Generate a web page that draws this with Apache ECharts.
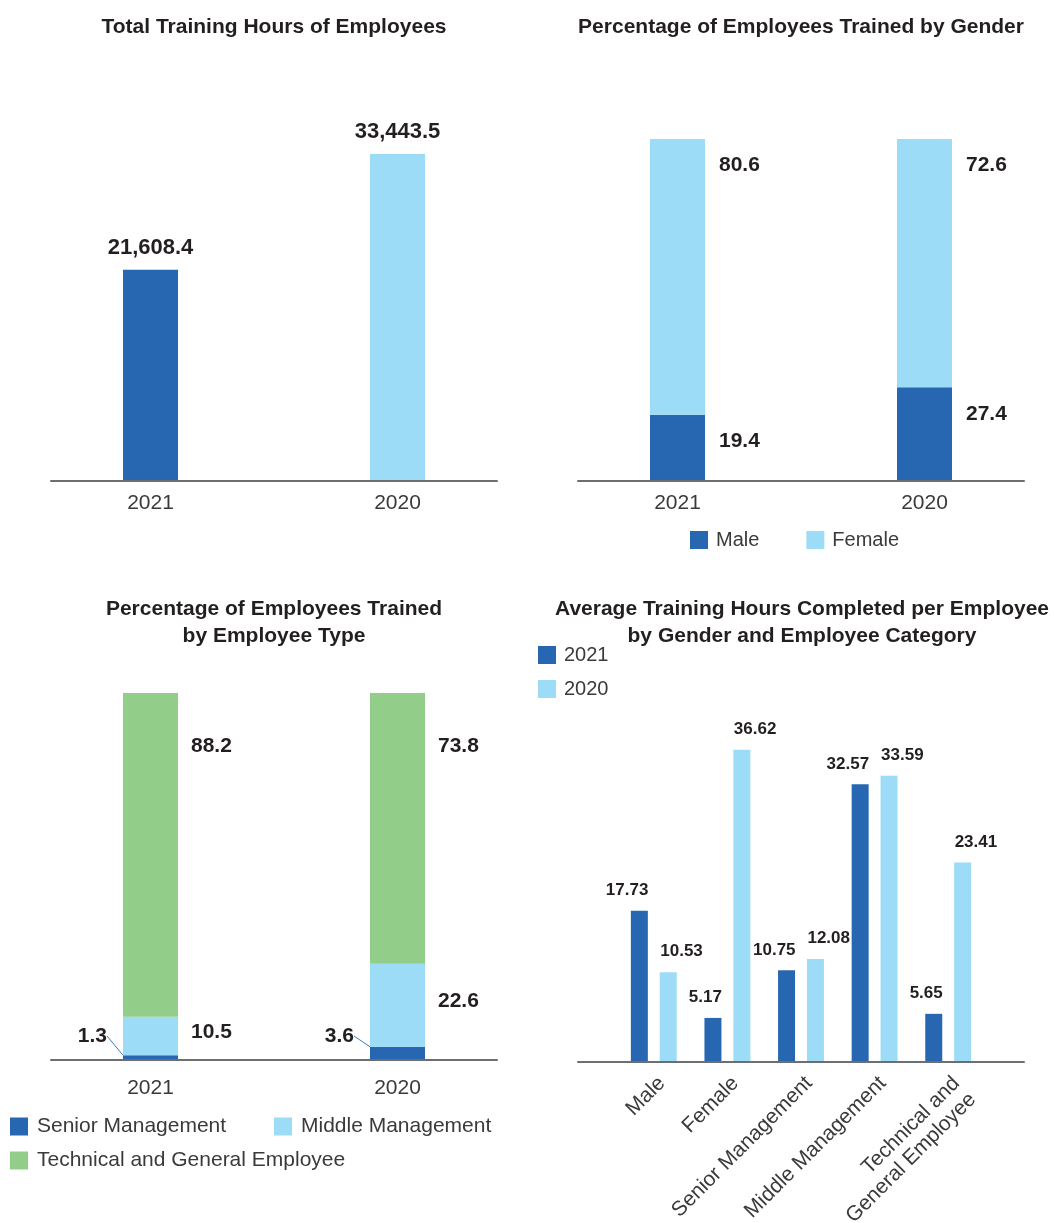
<!DOCTYPE html>
<html>
<head>
<meta charset="utf-8">
<script src="https://cdn.jsdelivr.net/npm/echarts@6/dist/echarts.min.js"></script>
<style>
html,body{margin:0;padding:0;background:#fff;}
#main{width:1054px;height:1223px;}
</style>
</head>
<body>
<div id="main"></div>
<script>
// ---- data ----
const years = ['2021', '2020'];
const totalHours = [21608.4, 33443.5];
const genderMale = [19.4, 27.4];
const genderFemale = [80.6, 72.6];
const typeSenior = [1.3, 3.6];
const typeMiddle = [10.5, 22.6];
const typeTech = [88.2, 73.8];
const avgCategories = ['Male', 'Female', 'Senior Management', 'Middle Management', 'Technical and\nGeneral Employee'];
const avg2021 = [17.73, 5.17, 10.75, 32.57, 5.65];
const avg2020 = [10.53, 36.62, 12.08, 33.59, 23.41];

// ---- style ----
const FONT = "'Liberation Sans', Arial, sans-serif";
const DARK = '#2767b1';
const LIGHT = '#9ddcf6';
const GREEN = '#92cd8a';
const AXIS = '#6d6e71';
const TXT = '#231f20';
const GREY = '#3a3a3a';

const chart = echarts.init(document.getElementById('main'), null, {renderer: 'canvas'});

const gridBoxes = [
  {left: 27, width: 494, top: 90, bottom: 742},   // 0 chart1 bars
  {left: 51, width: 446, top: 90, bottom: 742},   // 1 chart1 axis line
  {left: 554, width: 494, top: 139, bottom: 742}, // 2 chart2 bars
  {left: 578, width: 446, top: 139, bottom: 742}, // 3 chart2 axis line
  {left: 27, width: 494, top: 693, bottom: 163},  // 4 chart3 bars
  {left: 51, width: 446, top: 693, bottom: 163},  // 5 chart3 axis line
  {left: 617, width: 368, top: 721, bottom: 161}, // 6 chart4 bars
  {left: 578, width: 446, top: 721, bottom: 161}  // 7 chart4 axis line
];
const grids = gridBoxes.map(g => Object.assign({outerBoundsMode: 'none', containLabel: false}, g));

function catAxis(gi, data, extra) {
  return Object.assign({
    gridIndex: gi, type: 'category', data: data,
    axisLine: {show: false}, axisTick: {show: false},
    axisLabel: {color: GREY, fontSize: 21, fontFamily: FONT, margin: 12}
  }, extra || {});
}
function lineAxis(gi) {
  return {
    gridIndex: gi, type: 'value', min: 0, max: 1, position: 'bottom',
    axisLine: {show: true, onZero: false, lineStyle: {color: AXIS, width: 2}},
    axisTick: {show: false}, axisLabel: {show: false}, splitLine: {show: false}, z: 5
  };
}
function valAxis(gi, max) {
  return {gridIndex: gi, type: 'value', min: 0, max: max, show: false, splitLine: {show: false}};
}

const valLabel = {color: TXT, fontWeight: 'bold', fontSize: 21, fontFamily: FONT};
const titleStyle = {fontSize: 21, fontWeight: 'bold', color: TXT, fontFamily: FONT, lineHeight: 27};
const legendText = {fontSize: 20, color: GREY, fontFamily: FONT, padding: [0, 0, 0, 3]};
const legendText21 = {fontSize: 21, color: GREY, fontFamily: FONT, padding: [0, 0, 0, 4]};

const option = {
  backgroundColor: '#fff',
  animation: false,
  textStyle: {fontFamily: FONT},
  title: [
    {text: 'Total Training Hours of Employees', left: 269, top: 9, textAlign: 'center', textStyle: titleStyle},
    {text: 'Percentage of Employees Trained by Gender', left: 796, top: 9, textAlign: 'center', textStyle: titleStyle},
    {text: 'Percentage of Employees Trained\nby Employee Type', left: 269, top: 591, textAlign: 'center', textStyle: titleStyle},
    {text: 'Average Training Hours Completed per Employee\nby Gender and Employee Category', left: 797, top: 591, textAlign: 'center', textStyle: titleStyle}
  ],
  legend: [
    {data: ['Male', 'Female'], left: 685, top: 525, itemWidth: 18, itemHeight: 18, itemGap: 47, icon: 'rect', textStyle: legendText},
    {data: ['Senior Management'], left: 5, top: 1111, itemWidth: 18, itemHeight: 18, icon: 'rect', textStyle: legendText21},
    {data: ['Middle Management'], left: 269, top: 1111, itemWidth: 18, itemHeight: 18, icon: 'rect', textStyle: legendText21},
    {data: ['Technical and General Employee'], left: 5, top: 1145, itemWidth: 18, itemHeight: 18, icon: 'rect', textStyle: legendText21},
    {data: ['2021', '2020'], left: 533, top: 640, orient: 'vertical', itemWidth: 18, itemHeight: 18, itemGap: 14, icon: 'rect', textStyle: legendText}
  ],
  grid: grids,
  xAxis: [
    catAxis(0, years),
    lineAxis(1),
    catAxis(2, years),
    lineAxis(3),
    catAxis(4, years, {axisLabel: {color: GREY, fontSize: 21, fontFamily: FONT, margin: 18}}),
    lineAxis(5),
    catAxis(6, avgCategories, {axisLabel: {color: GREY, fontSize: 21, fontFamily: FONT, rotate: 45, margin: 10, interval: 0, lineHeight: 23, verticalAlign: 'top'}}),
    lineAxis(7)
  ],
  yAxis: [
    valAxis(0, 40000), valAxis(1, 1),
    valAxis(2, 100), valAxis(3, 1),
    valAxis(4, 100), valAxis(5, 1),
    valAxis(6, 40), valAxis(7, 1)
  ],
  series: [
    // chart 1
    {
      name: 'Total Training Hours', type: 'bar', xAxisIndex: 0, yAxisIndex: 0, barWidth: 55,
      data: totalHours,
      itemStyle: {color: p => p.dataIndex === 0 ? DARK : LIGHT},
      label: Object.assign({show: true, position: 'top', distance: 11,
        formatter: p => p.value.toLocaleString('en-US', {minimumFractionDigits: 1, maximumFractionDigits: 1})}, valLabel, {fontSize: 22})
    },
    // chart 2
    {
      name: 'Male', type: 'bar', stack: 'gender', xAxisIndex: 2, yAxisIndex: 2, barWidth: 55,
      data: genderMale, itemStyle: {color: DARK},
      label: Object.assign({show: true, position: ['100%', 27], offset: [14, 0], align: 'left', verticalAlign: 'middle'}, valLabel)
    },
    {
      name: 'Female', type: 'bar', stack: 'gender', xAxisIndex: 2, yAxisIndex: 2, barWidth: 55,
      data: genderFemale, itemStyle: {color: LIGHT},
      label: Object.assign({show: true, position: ['100%', 26], offset: [14, 0], align: 'left', verticalAlign: 'middle'}, valLabel)
    },
    // chart 3
    {
      name: 'Senior Management', type: 'bar', stack: 'type', xAxisIndex: 4, yAxisIndex: 4, barWidth: 55,
      data: typeSenior, itemStyle: {color: DARK},
      label: Object.assign({show: true, position: 'left', distance: 5}, valLabel),
      labelLayout: p => ({x: p.rect.x - 16, y: p.rect.y + p.rect.height - 24, align: 'right', verticalAlign: 'middle'}),
      labelLine: {show: true, lineStyle: {color: '#3f7cc0', width: 1}}
    },
    {
      name: 'Middle Management', type: 'bar', stack: 'type', xAxisIndex: 4, yAxisIndex: 4, barWidth: 55,
      data: typeMiddle, itemStyle: {color: LIGHT},
      label: Object.assign({show: true, position: 'right', distance: 13, offset: [0, -4]}, valLabel)
    },
    {
      name: 'Technical and General Employee', type: 'bar', stack: 'type', xAxisIndex: 4, yAxisIndex: 4, barWidth: 55,
      data: typeTech, itemStyle: {color: GREEN},
      label: Object.assign({show: true, position: ['100%', 53], offset: [13, 0], align: 'left', verticalAlign: 'middle'}, valLabel)
    },
    // chart 4
    {
      name: '2021', type: 'bar', xAxisIndex: 6, yAxisIndex: 6, barWidth: 17, barGap: '70%',
      data: avg2021, itemStyle: {color: DARK},
      label: {show: true, position: 'top', distance: 12, align: 'right', offset: [9, 0], color: TXT, fontWeight: 'bold', fontSize: 17, fontFamily: FONT}
    },
    {
      name: '2020', type: 'bar', xAxisIndex: 6, yAxisIndex: 6, barWidth: 17, barGap: '70%',
      data: avg2020, itemStyle: {color: LIGHT},
      label: {show: true, position: 'top', distance: 12, align: 'left', offset: [-8, 0], color: TXT, fontWeight: 'bold', fontSize: 17, fontFamily: FONT}
    }
  ]
};
chart.setOption(option);
</script>
</body>
</html>
